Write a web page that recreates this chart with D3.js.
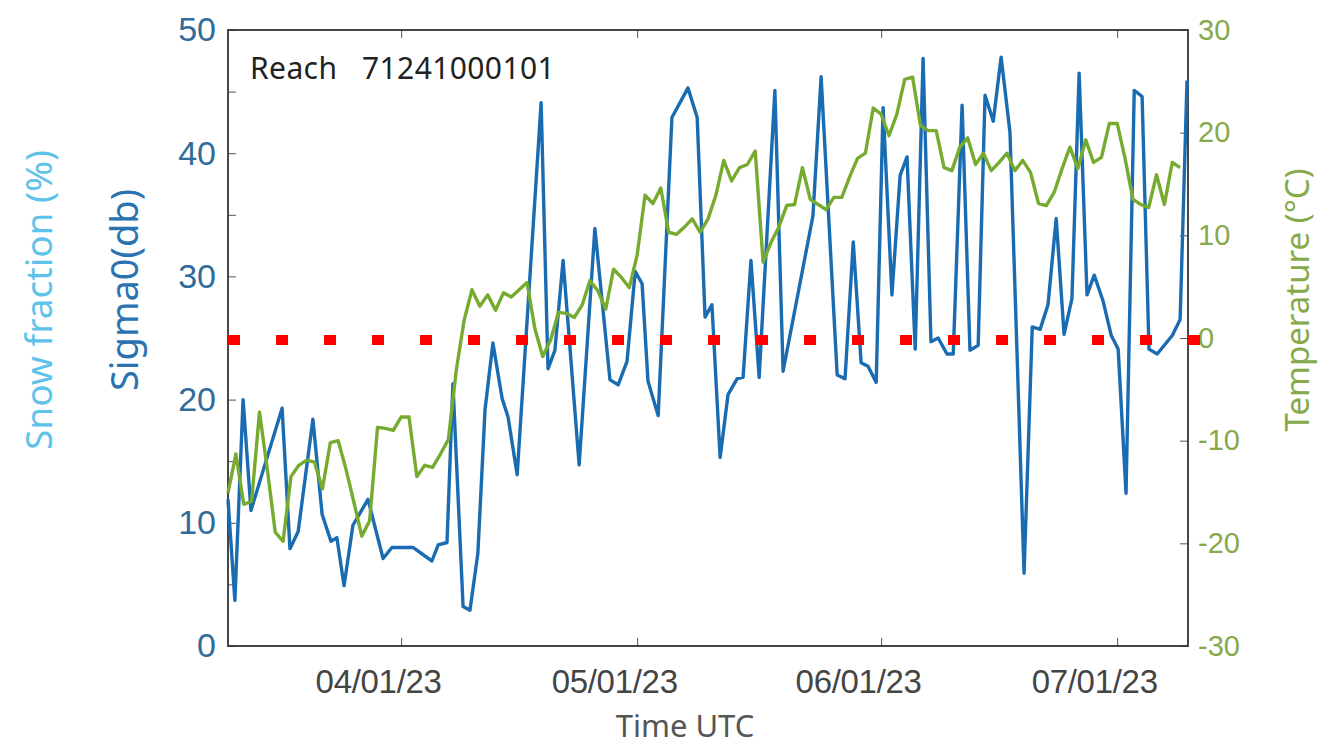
<!DOCTYPE html>
<html>
<head>
  <meta charset="utf-8">
  <title>Reach 71241000101</title>
  <script src="https://d3js.org/d3.v7.min.js"></script>
  <style>
    body { margin: 0; background: #fff; }
    svg { font-family: "Noto Sans", sans-serif; }
    .frame { fill: none; stroke: #333; stroke-width: 1.8px; }
    .tick line { stroke: #555; }
    .line { fill: none; stroke-width: 3.4px; stroke-linejoin: round; }
  </style>
</head>
<body>
  <script>
    // sigma0 samples (irregular times, UTC)
    var sigmaTimes = [
      "2023-03-10 00", "2023-03-10 21", "2023-03-11 22", "2023-03-12 22", "2023-03-16 21",
      "2023-03-17 21", "2023-03-18 22", "2023-03-20 19", "2023-03-21 23", "2023-03-23 02",
      "2023-03-23 20", "2023-03-24 18", "2023-03-25 21", "2023-03-27 19", "2023-03-29 17",
      "2023-03-30 20", "2023-04-02 12", "2023-04-04 22", "2023-04-05 17", "2023-04-06 20",
      "2023-04-07 14", "2023-04-08 21", "2023-04-09 18", "2023-04-10 18", "2023-04-11 16",
      "2023-04-12 16", "2023-04-13 20", "2023-04-14 14", "2023-04-15 18", "2023-04-18 19",
      "2023-04-19 16", "2023-04-20 13", "2023-04-21 14", "2023-04-23 15", "2023-04-25 15",
      "2023-04-27 13", "2023-04-28 14", "2023-04-29 17", "2023-04-30 18", "2023-05-01 15",
      "2023-05-02 09", "2023-05-03 16", "2023-05-05 10", "2023-05-07 11", "2023-05-08 15",
      "2023-05-09 15", "2023-05-10 12", "2023-05-11 13", "2023-05-12 13", "2023-05-13 17",
      "2023-05-14 11", "2023-05-15 11", "2023-05-16 12", "2023-05-18 12", "2023-05-19 13",
      "2023-05-23 08", "2023-05-24 09", "2023-05-26 10", "2023-05-27 10", "2023-05-28 11",
      "2023-05-29 11", "2023-05-30 08", "2023-05-31 09", "2023-06-01 06", "2023-06-02 09",
      "2023-06-03 10", "2023-06-04 07", "2023-06-05 08", "2023-06-06 08", "2023-06-07 08",
      "2023-06-08 06", "2023-06-09 09", "2023-06-10 04", "2023-06-11 07", "2023-06-12 07",
      "2023-06-13 08", "2023-06-14 05", "2023-06-15 06", "2023-06-16 06", "2023-06-17 09",
      "2023-06-19 04", "2023-06-20 05", "2023-06-21 05", "2023-06-22 05", "2023-06-23 06",
      "2023-06-24 06", "2023-06-25 06", "2023-06-26 04", "2023-06-27 04", "2023-06-28 02",
      "2023-06-29 05", "2023-06-30 06", "2023-07-01 03", "2023-07-02 03", "2023-07-03 04",
      "2023-07-04 04", "2023-07-05 01", "2023-07-06 02", "2023-07-08 00", "2023-07-09 00",
      "2023-07-09 21"
    ];
    var sigmaValues = [
      11.9, 3.7, 20.0, 11.0, 19.3, 7.9, 9.3, 18.4, 10.7, 8.5,
      8.8, 4.9, 9.8, 11.9, 7.1, 8.0, 8.0, 6.9, 8.2, 8.4,
      21.3, 3.2, 2.9, 7.5, 19.2, 24.6, 20.1, 18.6, 13.9, 44.1,
      22.5, 24.0, 31.3, 14.7, 33.9, 21.6, 21.2, 23.1, 30.4, 29.4,
      21.5, 18.7, 42.9, 45.3, 42.9, 26.7, 27.7, 15.3, 20.4, 21.7,
      21.8, 31.3, 21.8, 45.1, 22.3, 34.9, 46.2, 22.0, 21.7, 32.8,
      23.0, 22.7, 21.4, 43.7, 28.5, 38.2, 39.7, 24.1, 47.7, 24.7,
      25.0, 23.7, 23.7, 43.9, 24.0, 24.4, 44.7, 42.6, 47.8, 41.7,
      5.9, 25.9, 25.7, 27.7, 34.7, 25.3, 28.2, 46.5, 28.5, 30.1,
      28.0, 25.2, 24.1, 12.4, 45.1, 44.6, 24.1, 23.7, 25.2, 26.5,
      45.9
    ];

    // daily air temperature (deg C), starting 2023-03-10
    var tempStart = "2023-03-10 00";
    var tempValues = [
      -15.1, -11.3, -16.2, -15.9, -7.2, -12.8, -18.9, -19.8, -13.5, -12.4,
      -11.9, -12.1, -14.7, -10.2, -10.0, -12.8, -16.0, -19.3, -17.8, -8.7,
      -8.8, -9.0, -7.7, -7.7, -13.5, -12.4, -12.6, -11.3, -9.9, -3.2,
      1.7, 4.7, 3.1, 4.2, 2.7, 4.4, 4.0, 4.7, 5.4, 0.9,
      -1.8, -0.2, 2.5, 2.4, 2.0, 3.2, 5.6, 4.6, 2.8, 6.7,
      5.9, 4.9, 8.1, 13.9, 13.1, 14.6, 10.3, 10.1, 10.8, 11.6,
      10.3, 11.6, 13.9, 17.3, 15.3, 16.6, 16.9, 18.2, 7.4, 9.3,
      10.8, 12.9, 13.0, 16.6, 13.5, 13.0, 12.5, 13.7, 13.7, 15.7,
      17.5, 18.0, 22.4, 21.8, 19.7, 21.8, 25.2, 25.4, 20.7, 20.2,
      20.2, 16.6, 16.3, 18.6, 19.5, 16.9, 18.0, 16.3, 17.1, 18.0,
      16.3, 17.3, 16.1, 13.1, 12.9, 14.2, 16.5, 18.6, 16.5, 19.3,
      17.1, 17.6, 20.9, 20.9, 17.5, 13.5, 13.0, 12.7, 15.9, 13.0,
      17.1, 16.6
    ];

    var freezingTemp = 0;
    var timeRange = ["2023-03-10 00", "2023-07-10 00"];
    var sigmaTicks = [0, 10, 20, 30, 40, 50];
    var tempTicks = [-30, -20, -10, 0, 10, 20, 30];
    var reachLabel = "Reach   71241000101";

    var W = 1321, H = 747;
    var margin = {top: 30, right: 133, bottom: 101, left: 228},
        width = W - margin.left - margin.right,
        height = H - margin.top - margin.bottom;

    var parse = d3.utcParse("%Y-%m-%d %H");

    var sigma = sigmaTimes.map(function(t, i) { return {date: parse(t), value: sigmaValues[i]}; });
    var t0 = parse(tempStart);
    var temps = tempValues.map(function(v, i) { return {date: d3.utcDay.offset(t0, i), value: v}; });

    var x = d3.scaleUtc().domain(timeRange.map(parse)).range([0, width]);
    var yL = d3.scaleLinear().domain([0, 50]).range([height, 0]);
    var yR = d3.scaleLinear().domain([-30, 30]).range([height, 0]);

    var svg = d3.select("body").append("svg")
        .attr("width", W)
        .attr("height", H);

    svg.append("rect").attr("width", W).attr("height", H).attr("fill", "#fff");

    var g = svg.append("g")
        .attr("transform", "translate(" + margin.left + "," + margin.top + ")");

    // inward ticks
    var monthTicks = x.ticks(d3.utcMonth.every(1));

    g.append("g")
        .attr("class", "x axis")
        .attr("transform", "translate(0," + height + ")")
        .call(d3.axisBottom(x).tickValues(monthTicks).tickSizeInner(-8).tickSizeOuter(0)
          .tickPadding(24).tickFormat(d3.utcFormat("%m/%d/%y")))
        .call(function(s) {
          s.select(".domain").remove();
          s.selectAll("text").attr("fill", "#444").attr("font-size", "33px")
            .attr("dx", -23).attr("letter-spacing", "-0.3px");
        });

    g.append("g")
        .attr("class", "x axis top")
        .call(d3.axisTop(x).tickValues(monthTicks).tickSizeInner(-8).tickSizeOuter(0).tickFormat(""))
        .call(function(s) { s.select(".domain").remove(); });

    g.append("g")
        .attr("class", "y axis left")
        .call(d3.axisLeft(yL).ticks(10).tickSizeInner(-8).tickSizeOuter(0).tickPadding(12)
          .tickFormat(function(d) { return sigmaTicks.indexOf(d) >= 0 ? d : ""; }))
        .call(function(s) {
          s.select(".domain").remove();
          s.selectAll("text").attr("fill", "#2f6b9c").attr("font-size", "34px");
        });

    g.append("g")
        .attr("class", "y axis right")
        .attr("transform", "translate(" + width + ",0)")
        .call(d3.axisRight(yR).tickValues(tempTicks).tickSizeInner(-8).tickSizeOuter(0).tickPadding(10)
          .tickFormat(function(d) { return String(d); }))
        .call(function(s) {
          s.select(".domain").remove();
          s.selectAll("text").attr("fill", "#86a94a").attr("font-size", "29px");
        });

    g.append("rect")
        .attr("class", "frame")
        .attr("width", width)
        .attr("height", height);

    var sigmaLine = d3.line()
        .x(function(d) { return x(d.date); })
        .y(function(d) { return yL(d.value); });

    var tempLine = d3.line()
        .x(function(d) { return x(d.date); })
        .y(function(d) { return yR(d.value); });

    g.append("path")
        .datum(sigma)
        .attr("class", "line")
        .attr("stroke", "#1a6cb2")
        .attr("d", sigmaLine);

    g.append("path")
        .datum(temps)
        .attr("class", "line")
        .attr("stroke", "#77ab30")
        .attr("d", tempLine);

    // freezing line
    g.append("line")
        .attr("x1", 0)
        .attr("x2", width + 12)
        .attr("y1", yR(freezingTemp) + 2)
        .attr("y2", yR(freezingTemp) + 2)
        .attr("stroke", "#ff0000")
        .attr("stroke-width", 10)
        .attr("stroke-dasharray", "12,36");

    g.append("text")
        .attr("x", 22)
        .attr("y", 49)
        .attr("fill", "#222")
        .attr("font-size", "30px")
        .attr("letter-spacing", "0.4px")
        .style("white-space", "pre")
        .text(reachLabel);

    // axis titles
    svg.append("text")
        .attr("transform", "translate(" + (margin.left + width / 2 - 23) + ",737)")
        .attr("text-anchor", "middle")
        .attr("fill", "#555")
        .attr("font-size", "31px")
        .text("Time UTC");

    svg.append("text")
        .attr("transform", "translate(138,290) rotate(-90)")
        .attr("text-anchor", "middle")
        .attr("fill", "#2b72b0")
        .attr("font-size", "38px")
        .text("Sigma0(db)");

    svg.append("text")
        .attr("transform", "translate(52,300) rotate(-90)")
        .attr("text-anchor", "middle")
        .attr("fill", "#5ec3ea")
        .attr("font-size", "37px")
        .text("Snow fraction (%)");

    svg.append("text")
        .attr("transform", "translate(1309,300) rotate(-90)")
        .attr("text-anchor", "middle")
        .attr("fill", "#86a94a")
        .attr("font-size", "33px")
        .text("Temperature (\u00B0C)");
  </script>
</body>
</html>
